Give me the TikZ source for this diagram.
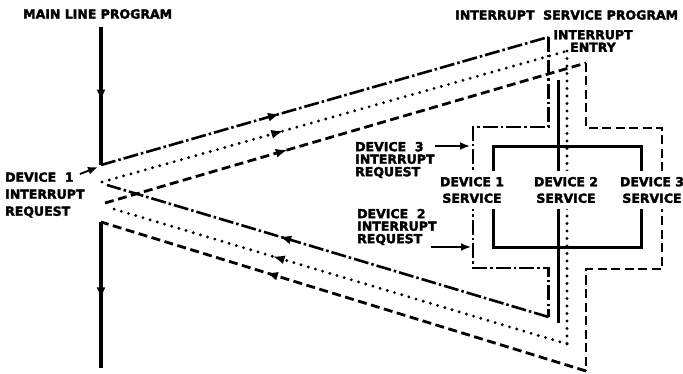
\documentclass[tikz,border=0pt]{standalone}
\usepackage{fontspec}
\setmainfont{DejaVu Sans}[BoldFeatures={FakeBold=2.5}]
\usetikzlibrary{arrows.meta,decorations.markings}

\newcommand{\lblfont}{\fontsize{12.5}{12.5}\selectfont\bfseries}

\begin{document}
\begin{tikzpicture}[x=1pt, y=-1pt,
      lbl/.style={inner sep=0pt, align=left, font=\lblfont},
      svcnode/.style={lbl, align=center, fill=white, inner xsep=1pt, inner ysep=6pt},
      midarr/.style={postaction={decorate, decoration={markings,
          mark=at position #1 with {\arrow{Latex[length=12pt,width=9pt]}}}}},
      mainline/.style={line width=3.2pt},
      dev1path/.style={line width=2.6pt, dash pattern=on 15pt off 3pt on 2.5pt off 3pt},
      dev2path/.style={line width=3.2pt, line cap=round, dash pattern=on 0pt off 7.5pt},
      dev3path/.style={line width=2.8pt, dash pattern=on 9pt off 4.5pt},
      svcline/.style={line width=3pt},
      reqarr/.style={line width=1.8pt, -{Latex[length=10pt,width=8pt]}}
    ]
    \useasboundingbox (0,0) rectangle (683,374);
    % Labels
    \node[lbl, anchor=west] (mlp)   at (23,14)  {MAIN LINE PROGRAM};
    \node[lbl, anchor=west] (isp)   at (455,15) {INTERRUPT\ \ SERVICE PROGRAM};
    \node[lbl, align=center] (entry) at (593,41) {INTERRUPT\\ENTRY};
    \node[lbl, anchor=west] (req1)  at (5,195)   {DEVICE\ \ 1\\[4.5pt]INTERRUPT\\[4.5pt]REQUEST};
    \node[lbl, anchor=west] (req3)  at (355,160) {DEVICE\ \ 3\\INTERRUPT\\REQUEST};
    \node[lbl, anchor=west] (req2)  at (357,227) {DEVICE\ \ 2\\INTERRUPT\\REQUEST};
    % Points
    \coordinate (mtop) at (101,27);
    \coordinate (m1)   at (101,165);
    \coordinate (m2)   at (101,222);
    \coordinate (mbot) at (101,368);
    \coordinate (a1) at (548.5,37);
    \coordinate (a2) at (473,127);
    \coordinate (a3) at (548.5,268);
    \coordinate (a4) at (548.5,317);
    \coordinate (a5) at (107,185);
    \coordinate (b0) at (102,182);
    \coordinate (b1) at (567,51);
    \coordinate (b2) at (567,344);
    \coordinate (b3) at (107,207);
    \coordinate (c0) at (105,203);
    \coordinate (c1) at (586,63);
    \coordinate (c2) at (662,128);
    \coordinate (c3) at (586,269);
    \coordinate (c4) at (586,371);
    \coordinate (stop) at (558,80);
    \coordinate (sbot) at (558,323);
    \coordinate (r1a) at (80,174);
    \coordinate (r1)  at (98,167);
    \coordinate (r3)  at (470,146);
    \coordinate (r2)  at (471,247);
    % Main line program
    \draw[mainline, midarr=0.54] (mtop) -- (m1);
    \draw[mainline, midarr=0.53] (m2) -- (mbot);
    % Device 1 (dash dot)
    \draw[dev1path, midarr=0.40] (m1) -- (a1);
    \draw[dev1path] (a1) |- (a2) |- (a3) -- (a4);
    \draw[dev1path, midarr=0.61] (a4) -- (a5);
    % Device 2 (dotted)
    \draw[dev2path, midarr=0.39] (b0) -- (b1);
    \draw[dev2path] (b1) -- (b2);
    \draw[dev2path, midarr=0.64] (b2) -- (b3);
    % Device 3 (dashed)
    \draw[dev3path, midarr=0.38] (c0) -- (c1);
    \draw[dev3path] (c1) |- (c2) |- (c3) -- (c4);
    \draw[dev3path, midarr=0.66] (c4) -- (m2);
    % Service program
    \draw[svcline] (stop) -- (sbot);
    \draw[svcline] (493,147) rectangle (641,248);
    % Request arrows
    \draw[reqarr] (r1a) -- (r1);
    \draw[reqarr] (req3.east |- r3) -- (r3);
    \draw[reqarr] ([xshift=-6pt]req2.east |- r2) -- (r2);
    % Service labels
    \node[svcnode] (s1) at (472,190) {DEVICE 1\\[4pt]SERVICE};
    \node[svcnode] (s2) at (566,190) {DEVICE 2\\[4pt]SERVICE};
    \node[svcnode] (s3) at (652,190) {DEVICE 3\\[4pt]SERVICE};
  \end{tikzpicture}
\end{document}
